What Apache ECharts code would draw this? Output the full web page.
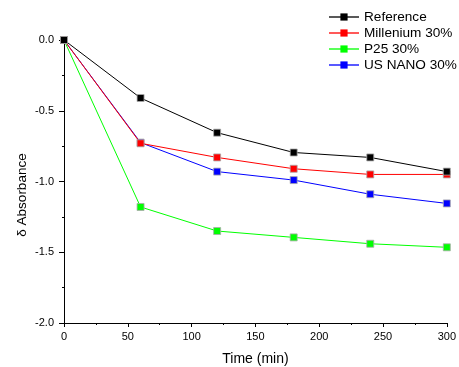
<!DOCTYPE html>
<html><head><meta charset="utf-8">
<script src="https://cdn.jsdelivr.net/npm/echarts@6/dist/echarts.min.js"></script>
<style>html,body{margin:0;padding:0;background:#fff}#c{width:459px;height:367px}</style>
</head><body><div id="c"></div>
<script>
const times = [0, 60, 120, 180, 240, 300];
const seriesNames = ['Reference', 'Millenium 30%', 'P25 30%', 'US NANO 30%'];
const referenceVals = [0, -0.41, -0.655, -0.795, -0.83, -0.93];
const milleniumVals = [0, -0.73, -0.83, -0.91, -0.95, -0.95];
const p25Vals = [0, -1.18, -1.35, -1.395, -1.44, -1.465];
const usNanoVals = [0, -0.725, -0.93, -0.99, -1.09, -1.155];
const xTitle = 'Time (min)';
const yTitle = 'δ Absorbance';
const colors = ['#000000', '#ff0000', '#00ff00', '#0000ff'];
const allVals = [referenceVals, milleniumVals, p25Vals, usNanoVals];
const font = 'Liberation Sans, Arial, sans-serif';

const chart = echarts.init(document.getElementById('c'));
chart.setOption({
  animation: false,
  grid: {left: 64, right: 12, top: 40, bottom: 44},
  legend: {
    left: 323, top: 5, padding: 5, orient: 'vertical', itemGap: 2, itemWidth: 30, itemHeight: 9,
    lineStyle: {opacity: 0.65},
    itemStyle: {borderWidth: 0},
    textStyle: {fontFamily: font, fontSize: 13.6, color: '#000', padding: [0, 0, 0, 0]},
    data: seriesNames
  },
  graphic: [
    {type: 'text', x: 255.5, y: 359, style: {text: xTitle, font: '14px ' + font, fill: '#000', align: 'center', verticalAlign: 'middle'}},
    {type: 'text', x: 22, y: 195, rotation: Math.PI / 2, style: {text: yTitle, font: '13.5px ' + font, fill: '#000', align: 'center', verticalAlign: 'middle'}}
  ],
  xAxis: {
    type: 'value', min: 0, max: 300, interval: 50,
    axisLine: {onZero: false, lineStyle: {color: '#000', width: 1}},
    axisTick: {show: true, length: 4, lineStyle: {color: '#000'}},
    minorTick: {show: true, splitNumber: 2, length: 2, lineStyle: {color: '#000'}},
    axisLabel: {fontFamily: font, fontSize: 11, color: '#000', margin: 8},
    splitLine: {show: false}
  },
  yAxis: {
    type: 'value', min: -2, max: 0, interval: 0.5,
    axisLine: {onZero: false, lineStyle: {color: '#000', width: 1}},
    axisTick: {show: true, length: 5, lineStyle: {color: '#000'}},
    minorTick: {show: true, splitNumber: 2, length: 2, lineStyle: {color: '#000'}},
    axisLabel: {fontFamily: font, fontSize: 11, color: '#000', margin: 10,
      formatter: v => v.toFixed(1)},
    splitLine: {show: false}
  },
  series: seriesNames.map((n, i) => ({
    name: n, type: 'line',
    data: times.map((t, j) => [t, allVals[i][j]]),
    symbol: 'rect', symbolSize: 7,
    lineStyle: {color: colors[i], width: 1},
    itemStyle: {color: colors[i], borderColor: '#aaaaaa', borderWidth: 0.8},
    z: 10 - i
  }))
});
</script></body></html>
